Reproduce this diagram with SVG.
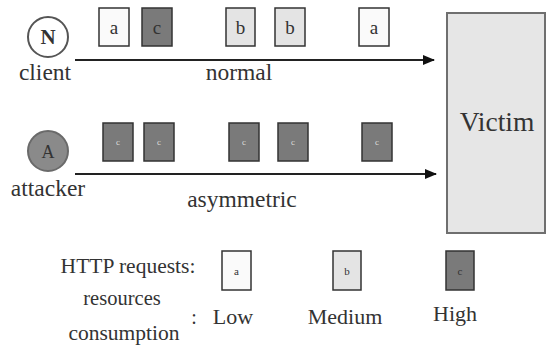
<svg xmlns="http://www.w3.org/2000/svg" width="547" height="349" viewBox="0 0 547 349" font-family="'Liberation Serif', 'DejaVu Serif', serif">
<defs>
<marker id="ah" markerWidth="12" markerHeight="10" refX="11" refY="5" orient="auto" markerUnits="userSpaceOnUse">
<path d="M0,0 L12,5 L0,10 z" fill="#111"/>
</marker>
<style>
text{font-family:'Liberation Serif','DejaVu Serif',serif;fill:#333}
.bx{stroke:#333;stroke-width:1.5}
.a{fill:#fafafa}
.b{fill:#e4e4e4}
.c{fill:#7a7a7a}
.lt{font-size:19px;text-anchor:middle}
.st{font-size:9px;text-anchor:middle;fill:#ddd}
.lbl{font-size:23.5px;text-anchor:middle}
.leg{font-size:22px;text-anchor:middle}
</style>
</defs>
<rect width="547" height="349" fill="#fff"/>
<g id="victim">
<rect x="447" y="13" width="98" height="220" fill="#e6e6e6" stroke="#6f6f6f" stroke-width="2"/>
<text x="497" y="131" font-size="27.5" text-anchor="middle">Victim</text>
</g>
<g id="client">
<circle cx="48" cy="37" r="20" fill="#fff" stroke="#555" stroke-width="2"/>
<text x="48" y="44" font-size="21" font-weight="bold" text-anchor="middle" fill="#222">N</text>
<text x="45" y="80" class="lbl">client</text>
</g>
<g id="attacker">
<circle cx="48" cy="151" r="20" fill="#8a8a8a" stroke="#6a6a6a" stroke-width="2"/>
<text x="48" y="158" font-size="18" text-anchor="middle" fill="#c8c8c8">A</text>
<text x="48" y="196" class="lbl">attacker</text>
</g>
<g id="connectors">
<line x1="75" y1="60" x2="434" y2="60" stroke="#222" stroke-width="2" marker-end="url(#ah)"/>
<line x1="75" y1="174" x2="436" y2="174" stroke="#222" stroke-width="2" marker-end="url(#ah)"/>
</g>
<g id="labels">
<text x="239" y="80" class="lbl">normal</text>
<text x="242" y="207" class="lbl">asymmetric</text>
</g>
<g id="normal-requests">
<rect class="bx a" x="99" y="8" width="30" height="38"/><text x="114" y="34" class="lt">a</text>
<rect class="bx c" x="142" y="8" width="30" height="38"/><text x="157" y="34" class="lt" fill="#333">c</text>
<rect class="bx b" x="226" y="8" width="29" height="38"/><text x="240.5" y="34" class="lt">b</text>
<rect class="bx b" x="275" y="8" width="30" height="38"/><text x="290" y="34" class="lt">b</text>
<rect class="bx a" x="359" y="8" width="30" height="38"/><text x="374" y="34" class="lt">a</text>
</g>
<g id="asym-requests">
<rect class="bx c" x="103" y="123" width="30" height="38"/><text x="118" y="145" class="st">c</text>
<rect class="bx c" x="144" y="123" width="30" height="38"/><text x="159" y="145" class="st">c</text>
<rect class="bx c" x="229" y="123" width="30" height="38"/><text x="244" y="145" class="st">c</text>
<rect class="bx c" x="278" y="123" width="30" height="38"/><text x="293" y="145" class="st">c</text>
<rect class="bx c" x="362" y="123" width="30" height="38"/><text x="377" y="145" class="st">c</text>
</g>
<g id="legend">
<text x="128" y="273" font-size="21.5" text-anchor="middle">HTTP requests:</text>
<rect class="bx a" x="222" y="251" width="29" height="39"/><text x="236.5" y="275" font-size="11" text-anchor="middle">a</text>
<rect class="bx b" x="333" y="251" width="28" height="39"/><text x="347" y="275" font-size="11" text-anchor="middle">b</text>
<rect class="bx c" x="446" y="251" width="28" height="39"/><text x="460" y="275" font-size="11" text-anchor="middle" fill="#ccc">c</text>
<text x="122" y="305" font-size="20.5" text-anchor="middle">resources</text>
<text x="124" y="340" font-size="21.5" text-anchor="middle">consumption</text>
<text x="194" y="324" font-size="20" text-anchor="middle">:</text>
<text x="233" y="324" class="leg">Low</text>
<text x="345" y="324" class="leg">Medium</text>
<text x="455" y="321" class="leg">High</text>
</g>
</svg>
